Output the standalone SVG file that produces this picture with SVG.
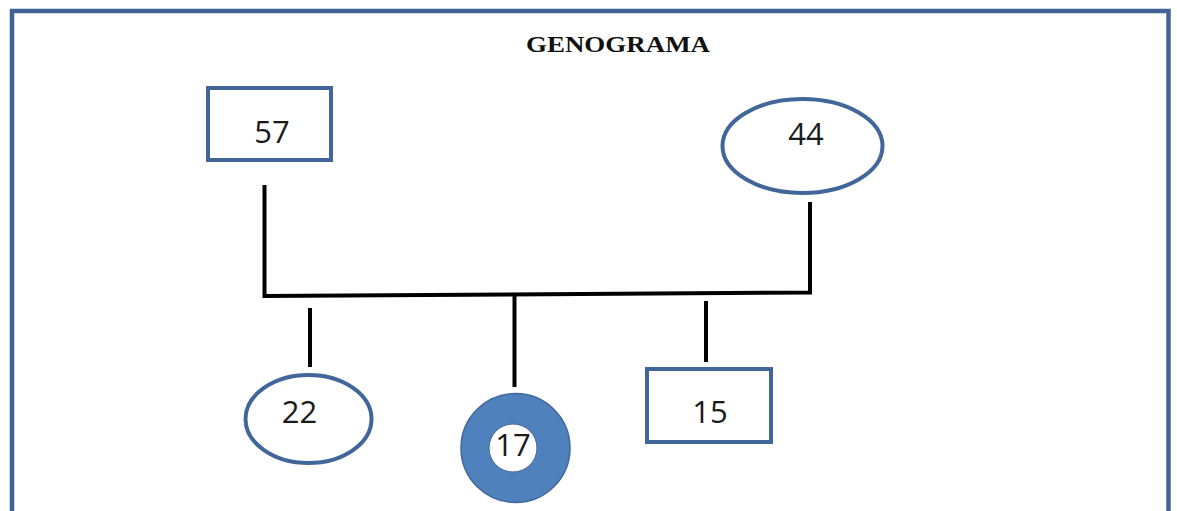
<svg xmlns="http://www.w3.org/2000/svg" width="1177" height="511" viewBox="0 0 1177 511">
<style>
.frame{fill:none;stroke:#3f6394;stroke-width:4.5}
.node{fill:#ffffff;stroke:#41679a;stroke-width:4}
.num{font-family:"Open Sans","Liberation Sans",sans-serif;font-size:31px;fill:#1a1a1a;text-anchor:middle}
.title{font-family:"Liberation Serif","Times New Roman",serif;font-weight:bold;font-size:24px;fill:#111;text-anchor:middle}
.link{fill:none;stroke:#000;stroke-width:4;stroke-linecap:butt;stroke-linejoin:miter}
</style>
<rect width="1177" height="511" fill="#ffffff"/>
<path class="frame" d="M12,520 V11 H1168.5 V520"/>
<text class="title" x="618" y="52" textLength="184" lengthAdjust="spacingAndGlyphs">GENOGRAMA</text>
<g id="connectors">
<path class="link" d="M264.5,185 V296 L810,292.5 V202"/>
<line class="link" x1="310" y1="308" x2="310" y2="367"/>
<line class="link" x1="514.5" y1="295" x2="514.5" y2="387"/>
<line class="link" x1="706" y1="301" x2="706" y2="362"/>
</g>
<g id="n57">
<rect class="node" x="208" y="88" width="123" height="72"/>
<text class="num" x="272" y="143">57</text>
</g>
<g id="n44">
<ellipse class="node" cx="802.5" cy="146" rx="80" ry="47"/>
<text class="num" x="806" y="145">44</text>
</g>
<g id="n22">
<ellipse class="node" cx="308.5" cy="419" rx="63" ry="44"/>
<text class="num" x="299.5" y="423">22</text>
</g>
<g id="n17">
<circle cx="515.5" cy="448" r="54.5" fill="#4f81bd" stroke="#41679a" stroke-width="1.5"/>
<circle cx="513" cy="448" r="24" fill="#ffffff" stroke="#41679a" stroke-width="1"/>
<text class="num" x="513" y="456">17</text>
</g>
<g id="n15">
<rect class="node" x="647" y="369" width="124" height="73"/>
<text class="num" x="710" y="423">15</text>
</g>
</svg>
